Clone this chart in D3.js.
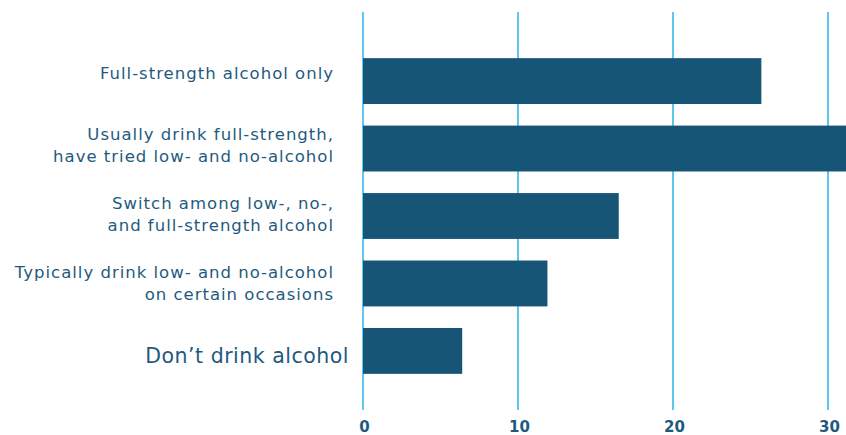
<!DOCTYPE html>
<html>
<head>
<meta charset="utf-8">
<script src="https://cdn.jsdelivr.net/npm/d3@7"></script>
<style>
  html, body { margin: 0; padding: 0; background: #fff; }
  svg { display: block; }
  text { font-family: "DejaVu Sans", "Open Sans", sans-serif; }
</style>
</head>
<body>
<div id="chart"></div>
<script>
// categories, split in lines as in the reference
var categories = [
  ["Full-strength alcohol only"],
  ["Usually drink full-strength,", "have tried low- and no-alcohol"],
  ["Switch among low-, no-,", "and full-strength alcohol"],
  ["Typically drink low- and no-alcohol", "on certain occasions"],
  ["Don\u2019t drink alcohol"]
];
var values = [25.7, 32, 16.5, 11.9, 6.4];
var ticks = [0, 10, 20, 30];

// small vertical nudges of the labels against their bar
var labelShift = [-8, -3, -2, 0, 5];

var width = 846, height = 435;
var svg = d3.select('#chart').append('svg')
  .attr('width', width).attr('height', height);

var x = d3.scaleLinear().domain([0, 30]).range([363, 828]);
var y = d3.scaleBand().domain(d3.range(values.length))
  .range([45, 385]).paddingInner(0.32).paddingOuter(0.18);

// gridlines
svg.append('g').selectAll('line').data(ticks).enter().append('line')
  .attr('x1', d => x(d)).attr('x2', d => x(d))
  .attr('y1', 12).attr('y2', 410)
  .attr('stroke', '#29b3ea').attr('stroke-width', 1.5);

// bars
svg.append('g').selectAll('rect').data(values).enter().append('rect')
  .attr('x', x(0))
  .attr('y', (d, i) => y(i) + 1)
  .attr('width', d => x(d) - x(0))
  .attr('height', y.bandwidth())
  .attr('fill', '#175577');

// category labels
var lab = svg.append('g').selectAll('text').data(categories).enter().append('text')
  .attr('text-anchor', 'end')
  .attr('fill', '#1f5a7e')
  .attr('font-size', (d, i) => i === 4 ? 20.5 : 16.5)
  .attr('letter-spacing', (d, i) => i === 4 ? 0.5 : 1)
  .attr('x', (d, i) => i === 4 ? 349 : 334)
  .attr('y', (d, i) => {
    var c = y(i) + 1 + y.bandwidth() / 2 + labelShift[i];
    return c - (d.length - 1) * 11;
  });
lab.each(function (d) {
  var t = d3.select(this);
  d.forEach((line, k) => {
    t.append('tspan').attr('x', t.attr('x'))
      .attr('dy', k === 0 ? '0.36em' : 22).text(line);
  });
});

// axis labels
var axis = d3.axisBottom(x).tickValues(ticks).tickSize(0).tickPadding(0);
var ax = svg.append('g').attr('transform', 'translate(1,421)').call(axis);
ax.select('.domain').remove();
ax.selectAll('text')
  .attr('fill', '#1f5a7e')
  .attr('font-size', 15)
  .attr('font-weight', 'bold')
  .attr('font-family', '"DejaVu Sans", sans-serif');
</script>
</body>
</html>
